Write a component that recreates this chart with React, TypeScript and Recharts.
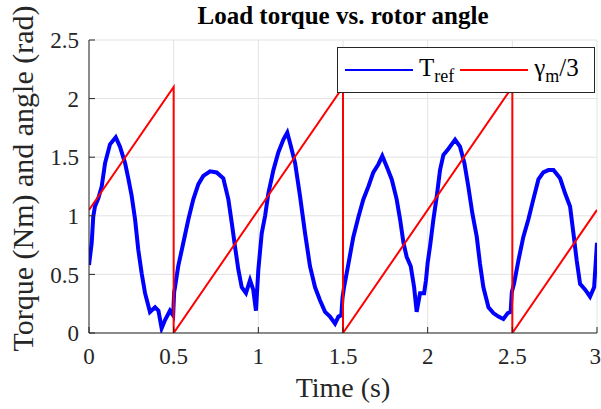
import { LineChart, Line, CartesianGrid, XAxis, YAxis, Legend } from "recharts";

// torque reference (s, Nm)
const torqueTime = [
  0, 0.016, 0.025, 0.035, 0.055, 0.075, 0.095, 0.124, 0.158, 0.183, 0.213, 0.232,
  0.252, 0.272, 0.291, 0.311, 0.331, 0.36, 0.39, 0.41, 0.429, 0.449, 0.478, 0.497,
  0.503, 0.508, 0.527, 0.557, 0.587, 0.616, 0.646, 0.675, 0.715, 0.754, 0.793, 0.823,
  0.843, 0.862, 0.882, 0.902, 0.927, 0.951, 0.97, 0.986, 1.0, 1.02, 1.04, 1.059,
  1.089, 1.118, 1.148, 1.171, 1.193, 1.217, 1.246, 1.276, 1.305, 1.335, 1.364, 1.394,
  1.423, 1.453, 1.473, 1.49, 1.497, 1.506, 1.532, 1.561, 1.591, 1.62, 1.65, 1.679,
  1.709, 1.732, 1.758, 1.788, 1.817, 1.837, 1.857, 1.876, 1.9, 1.92, 1.935, 1.955,
  1.979, 1.99, 2.0, 2.014, 2.034, 2.054, 2.073, 2.093, 2.122, 2.162, 2.191, 2.217,
  2.24, 2.264, 2.29, 2.309, 2.329, 2.359, 2.388, 2.418, 2.447, 2.473, 2.49, 2.497,
  2.51, 2.536, 2.565, 2.595, 2.624, 2.654, 2.683, 2.713, 2.743, 2.782, 2.812, 2.841,
  2.861, 2.88, 2.9, 2.93, 2.959, 2.983, 3.0,
];
const torqueValue = [
  0.58, 0.77, 0.99, 1.08, 1.15, 1.25, 1.45, 1.61, 1.67, 1.59, 1.45, 1.32,
  1.17, 0.97, 0.71, 0.51, 0.34, 0.18, 0.22, 0.19, 0.04, 0.11, 0.19, 0.15,
  0.35, 0.39, 0.57, 0.77, 0.97, 1.14, 1.27, 1.34, 1.38, 1.37, 1.32, 1.14,
  0.94, 0.74, 0.54, 0.39, 0.34, 0.45, 0.37, 0.19, 0.54, 0.85, 1.0, 1.19,
  1.39, 1.54, 1.65, 1.71, 1.59, 1.45, 1.17, 0.85, 0.57, 0.39, 0.28, 0.18,
  0.14, 0.08, 0.14, 0.15, 0.3, 0.39, 0.59, 0.82, 0.99, 1.14, 1.25, 1.37,
  1.44, 1.51, 1.42, 1.31, 1.14, 0.97, 0.77, 0.65, 0.57, 0.39, 0.18, 0.34,
  0.34, 0.45, 0.6, 0.74, 0.97, 1.17, 1.39, 1.52, 1.57, 1.65, 1.59, 1.45,
  1.25, 1.02, 0.82, 0.59, 0.39, 0.22, 0.17, 0.14, 0.12, 0.17, 0.18, 0.35,
  0.42, 0.62, 0.82, 0.97, 1.14, 1.31, 1.37, 1.39, 1.39, 1.32, 1.19, 1.08,
  0.85, 0.62, 0.42, 0.37, 0.31, 0.39, 0.77,
];

// rotor angle / 3 (rad), sawtooth corners
const angleTime = [0, 0.5, 0.5, 1.5, 1.5, 2.5, 2.5, 3];
const angleValue = [1.05, 2.1, 0, 2.1, 0, 2.1, 0, 1.05];

const xTicks = [0, 0.5, 1, 1.5, 2, 2.5, 3];
const yTicks = [0, 0.5, 1, 1.5, 2, 2.5];

const torqueData = torqueTime.map((t, i) => ({ t, v: torqueValue[i] }));
const angleData = angleTime.map((t, i) => ({ t, v: angleValue[i] }));

const font = "Liberation Serif";
const axisColor = "#262626";

function LegendBox() {
  const sample = (color: string) => (
    <span
      style={{
        display: "inline-block",
        width: 68,
        height: 0,
        borderTop: `2px solid ${color}`,
        verticalAlign: "middle",
        margin: "0 6px 0 0",
      }}
    />
  );
  return (
    <div
      style={{
        boxSizing: "border-box",
        width: 258,
        height: 46,
        border: `1px solid ${axisColor}`,
        background: "#fff",
        fontFamily: font,
        fontSize: 25,
        color: "#000",
        display: "flex",
        alignItems: "center",
        paddingLeft: 7,
        whiteSpace: "nowrap",
      }}
    >
      {sample("#0000ff")}
      <span>
        T<sub style={{ fontSize: 18 }}>ref</sub>
      </span>
      <span style={{ width: 6 }} />
      {sample("#ff0000")}
      <span>
        γ<sub style={{ fontSize: 18 }}>m</sub>/3
      </span>
    </div>
  );
}

export default function App() {
  return (
    <div
      style={{
        position: "absolute",
        left: 0,
        top: 0,
        width: 601,
        height: 409,
        background: "#fff",
        fontFamily: font,
      }}
    >
      <div
        style={{
          position: "absolute",
          left: 89,
          top: 1,
          width: 508,
          textAlign: "center",
          fontFamily: font,
          fontWeight: "bold",
          fontSize: 25,
          lineHeight: "30px",
          color: "#000",
        }}
      >
        Load torque vs. rotor angle
      </div>
      <LineChart
        width={601}
        height={409}
        margin={{ top: 40, right: 4, bottom: 16, left: 0 }}
        style={{ fontFamily: font }}
      >
        <CartesianGrid xAxisId="b" yAxisId="l" stroke="#e3e3e3" strokeWidth={1} />
        <XAxis
          xAxisId="b"
          type="number"
          dataKey="t"
          domain={[0, 3]}
          ticks={xTicks}
          allowDataOverflow
          height={60}
          stroke={axisColor}
          tickSize={-6}
          tickMargin={21}
          tick={{ fill: axisColor, fontSize: 23, fontFamily: font }}
          label={{ value: "Time (s)", position: "center", dy: 24, fill: axisColor, fontSize: 28, fontFamily: font }}
        />
        <XAxis
          xAxisId="t"
          orientation="top"
          type="number"
          domain={[0, 3]}
          ticks={xTicks}
          allowDataOverflow
          height={0}
          stroke={axisColor}
          tickSize={-6}
          tick={false}
        />
        <YAxis
          yAxisId="l"
          type="number"
          domain={[0, 2.5]}
          ticks={yTicks}
          allowDataOverflow
          width={89}
          stroke={axisColor}
          tickSize={-6}
          tickMargin={16}
          tick={{ fill: axisColor, fontSize: 23, fontFamily: font }}
          label={{
            value: "Torque (Nm) and angle (rad)",
            position: "center",
            angle: -90,
            dx: -22,
            dy: -8,
            fill: axisColor,
            fontSize: 30,
            fontFamily: font,
          }}
        />
        <YAxis
          yAxisId="r"
          orientation="right"
          type="number"
          domain={[0, 2.5]}
          ticks={yTicks}
          allowDataOverflow
          width={0}
          stroke={axisColor}
          tickSize={-6}
          tick={false}
        />
        <Line
          data={torqueData}
          xAxisId="b"
          yAxisId="l"
          dataKey="v"
          name="Tref"
          type="linear"
          stroke="#0000ff"
          strokeWidth={4}
          dot={false}
          isAnimationActive={false}
        />
        <Line
          data={angleData}
          xAxisId="b"
          yAxisId="l"
          dataKey="v"
          name="gamma_m/3"
          type="linear"
          stroke="#ff0000"
          strokeWidth={2}
          dot={false}
          isAnimationActive={false}
        />
        <Legend
          layout="horizontal"
          verticalAlign="middle"
          align="center"
          wrapperStyle={{ left: 337, top: 47, width: 258, height: 46 }}
          content={() => <LegendBox />}
        />
      </LineChart>
    </div>
  );
}
